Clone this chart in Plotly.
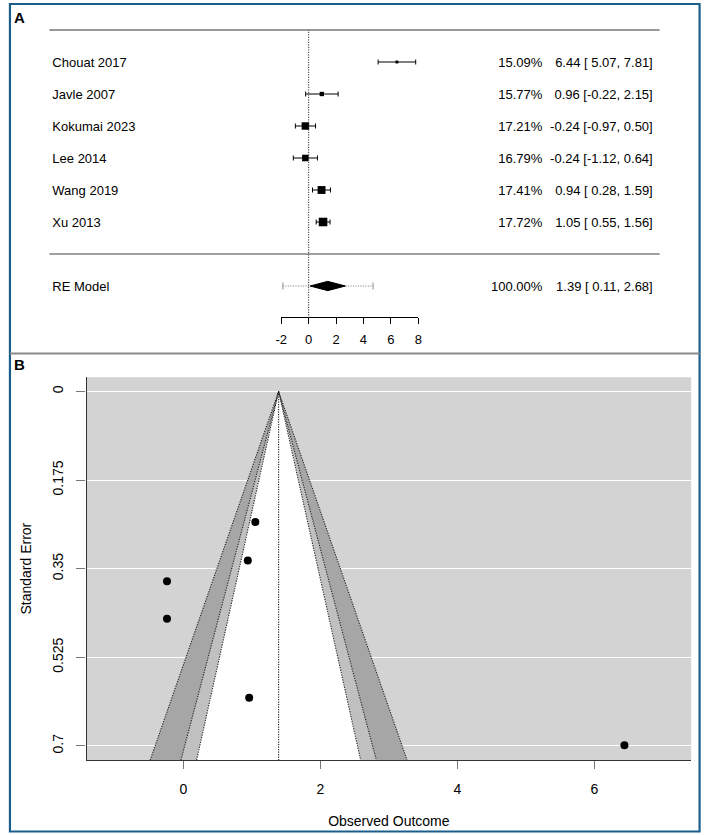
import plotly.graph_objects as go

# ---------------- data ----------------
studies = ["Chouat 2017", "Javle 2007", "Kokumai 2023", "Lee 2014", "Wang 2019", "Xu 2013"]
est = [6.44, 0.96, -0.24, -0.24, 0.94, 1.05]
ci_lo = [5.07, -0.22, -0.97, -1.12, 0.28, 0.55]
ci_hi = [7.81, 2.15, 0.50, 0.64, 1.59, 1.56]
weights = [15.09, 15.77, 17.21, 16.79, 17.41, 17.72]
se = [0.699, 0.605, 0.375, 0.449, 0.334, 0.258]

re_label = "RE Model"
re_est = 1.39
re_lo = 0.11
re_hi = 2.68
re_weight = 100.00
pi_lo = -1.88
pi_hi = 4.70

forest_ticks = [-2, 0, 2, 4, 6, 8]
funnel_xticks = [0, 2, 4, 6]
funnel_yticks = [0, 0.175, 0.35, 0.525, 0.7]
funnel_ytick_text = ["0", "0.175", "0.35", "0.525", "0.7"]
contour_z = [2.576, 1.96, 1.645]  # 99%, 95%, 90%
panel_letters = ["A", "B"]

# ---------------- helpers ----------------
W, H = 708, 835
FONT = "Liberation Sans, Arial, sans-serif"
DOT = "1.2px,1.3px"


def px(x):
    return x / W


def py(y):
    return 1 - y / H


fig = go.Figure()

# ---------------- Panel A: forest plot ----------------
k = len(studies)
rows = list(range(k, 0, -1))
re_row = -1
zero_px, unit_px = 307.0, 13.9
row0_px, row_px = 254.0, 32.0
xA_range = [-zero_px / unit_px, (W - zero_px) / unit_px]
yA_range = [(row0_px - 355) / row_px, row0_px / row_px]


def dx(p):
    """pixel column -> forest data x"""
    return (p - zero_px) / unit_px


wmin, wmax = min(weights), max(weights)
sizes = [5.7 * (0.5 + (w - wmin) / (wmax - wmin)) for w in weights]

for i in range(k):
    fig.add_trace(go.Scatter(
        x=[est[i]], y=[rows[i]], mode="markers",
        marker=dict(symbol="square", size=sizes[i], color="black"),
        error_x=dict(type="data", symmetric=False,
                     array=[ci_hi[i] - est[i]], arrayminus=[est[i] - ci_lo[i]],
                     color="black", thickness=1, width=2.5),
        xaxis="x", yaxis="y", showlegend=False, hoverinfo="skip"))

# prediction interval (dotted)
fig.add_trace(go.Scatter(
    x=[pi_lo, pi_hi], y=[re_row, re_row], mode="lines",
    line=dict(color="#8c8c8c", width=1, dash=DOT),
    xaxis="x", yaxis="y", showlegend=False, hoverinfo="skip"))
fig.add_trace(go.Scatter(
    x=[pi_lo, pi_hi], y=[re_row, re_row], mode="markers",
    marker=dict(symbol="line-ns", size=5, line=dict(color="#8c8c8c", width=1)),
    xaxis="x", yaxis="y", showlegend=False, hoverinfo="skip"))
# diamond
dh = 0.145
fig.add_trace(go.Scatter(
    x=[re_lo, re_est, re_hi, re_est, re_lo],
    y=[re_row, re_row + dh, re_row, re_row - dh, re_row],
    mode="lines", fill="toself", fillcolor="black",
    line=dict(color="black", width=1),
    xaxis="x", yaxis="y", showlegend=False, hoverinfo="skip"))

# forest axis (separate short axis)
fig.add_trace(go.Scatter(
    x=[forest_ticks[0], forest_ticks[-1]], y=[-2, -2], mode="markers",
    marker=dict(opacity=0), xaxis="x3", yaxis="y",
    showlegend=False, hoverinfo="skip"))

# text columns as text traces
all_rows = rows + [re_row]
text_rows = [r - 1.5 / row_px for r in all_rows]
label_txt = studies + [re_label]
weight_txt = [f"{w:.2f}%" for w in weights] + [f"{re_weight:.2f}%"]


def fmt_ci(e, lo, hi):
    lo_txt = f"{lo:.2f}" if lo < 0 else f"\u00a0{lo:.2f}"
    return f"{e:.2f} [{lo_txt}, {hi:.2f}]"


ci_txt = [fmt_ci(est[i], ci_lo[i], ci_hi[i]) for i in range(k)] + [fmt_ci(re_est, re_lo, re_hi)]
tfont = dict(size=13, color="black", family=FONT)

fig.add_trace(go.Scatter(
    x=[dx(47)] * len(all_rows), y=text_rows, mode="text", text=label_txt,
    textposition="middle right", textfont=tfont,
    xaxis="x", yaxis="y", showlegend=False, hoverinfo="skip", cliponaxis=False))
fig.add_trace(go.Scatter(
    x=[dx(544)] * len(all_rows), y=text_rows, mode="text", text=weight_txt,
    textposition="middle left", textfont=tfont,
    xaxis="x", yaxis="y", showlegend=False, hoverinfo="skip", cliponaxis=False))
fig.add_trace(go.Scatter(
    x=[dx(656)] * len(all_rows), y=text_rows, mode="text", text=ci_txt,
    textposition="middle left", textfont=tfont,
    xaxis="x", yaxis="y", showlegend=False, hoverinfo="skip", cliponaxis=False))

# panel letters on a pixel-space axis pair spanning the page
fig.add_trace(go.Scatter(
    x=[8, 8], y=[19, 366], mode="text",
    text=[f"<b>{t}</b>" for t in panel_letters],
    textposition="middle right", textfont=dict(size=15, color="black", family=FONT),
    xaxis="x4", yaxis="y4", showlegend=False, hoverinfo="skip", cliponaxis=False))

shapes = []
xl = dx(44)
xr = dx(663)
shapes.append(dict(type="line", xref="x", yref="y", x0=xl, x1=xr, y0=k + 1, y1=k + 1,
                   line=dict(color="#333333", width=1.2)))
shapes.append(dict(type="line", xref="x", yref="y", x0=xl, x1=xr, y0=0, y1=0,
                   line=dict(color="#808080", width=1.5)))
shapes.append(dict(type="line", xref="x", yref="y", x0=0, x1=0, y0=-2, y1=k + 1,
                   line=dict(color="#333333", width=1, dash=DOT)))

# ---------------- Panel B: funnel plot ----------------
se_max = 0.728
shapes.append(dict(type="rect", xref="x2 domain", yref="y2 domain", x0=0, x1=1, y0=0, y1=1,
                   fillcolor="#d3d3d3", line=dict(width=0), layer="below"))

band_colors = ["#a6a6a6", "#c0c0c0", "white"]
for z, col in zip(contour_z, band_colors):
    fig.add_trace(go.Scatter(
        x=[re_est - z * se_max, re_est, re_est + z * se_max, re_est - z * se_max],
        y=[se_max, 0, se_max, se_max], mode="lines", fill="toself",
        fillcolor=col, line=dict(width=0), xaxis="x2", yaxis="y2",
        showlegend=False, hoverinfo="skip"))
for z in contour_z:
    fig.add_trace(go.Scatter(
        x=[re_est - z * se_max, re_est, re_est + z * se_max],
        y=[se_max, 0, se_max], mode="lines",
        line=dict(color="#222222", width=1.1, dash=DOT),
        xaxis="x2", yaxis="y2", showlegend=False, hoverinfo="skip"))
fig.add_trace(go.Scatter(
    x=[re_est, re_est], y=[0, se_max], mode="lines",
    line=dict(color="#222222", width=1.1, dash=DOT),
    xaxis="x2", yaxis="y2", showlegend=False, hoverinfo="skip"))
fig.add_trace(go.Scatter(
    x=est, y=se, mode="markers",
    marker=dict(symbol="circle", size=8, color="black"),
    xaxis="x2", yaxis="y2", showlegend=False, hoverinfo="skip"))

# frame
shapes.append(dict(type="rect", xref="paper", yref="paper",
                   x0=px(4), x1=px(703.5), y0=py(831.5), y1=py(4),
                   line=dict(color="#1b5e8c", width=2.2)))
shapes.append(dict(type="line", xref="paper", yref="paper",
                   x0=px(4), x1=px(703.5), y0=py(353.5), y1=py(353.5),
                   line=dict(color="#8a8a8a", width=2)))

fig.update_layout(
    width=W, height=H,
    margin=dict(l=0, r=0, t=0, b=0),
    paper_bgcolor="white", plot_bgcolor="rgba(0,0,0,0)",
    font=dict(family=FONT, size=13, color="black"),
    showlegend=False,
    xaxis=dict(domain=[0, 1], range=xA_range, visible=False, anchor="y"),
    yaxis=dict(domain=[py(355), 1], range=yA_range, visible=False, anchor="x"),
    xaxis4=dict(domain=[0, 1], range=[0, W], visible=False, anchor="y4"),
    yaxis4=dict(domain=[0, 1], range=[H, 0], visible=False, anchor="x4"),
    xaxis3=dict(domain=[px(zero_px + forest_ticks[0] * unit_px), px(zero_px + forest_ticks[-1] * unit_px)],
                range=[forest_ticks[0], forest_ticks[-1]], anchor="free", position=py(317),
                showline=True, linecolor="black", linewidth=1,
                ticks="outside", ticklen=6, tickcolor="black", tickwidth=1,
                tickvals=forest_ticks, ticktext=[str(t) for t in forest_ticks],
                showgrid=False, zeroline=False, ticklabelstandoff=4,
                tickfont=dict(size=13, family=FONT, color="black")),
    xaxis2=dict(domain=[px(81.7), px(695)], range=[-1.415, 7.415], anchor="y2",
                showline=True, linecolor="#333333", linewidth=1.2,
                ticks="outside", ticklen=8, tickcolor="#777777", tickwidth=1.2,
                tickvals=funnel_xticks, showgrid=False, zeroline=False,
                ticklabelstandoff=8,
                tickfont=dict(size=14, family=FONT, color="black"),
                title=dict(text="Observed Outcome", standoff=20,
                           font=dict(size=14, family=FONT, color="black"))),
    yaxis2=dict(domain=[py(760), py(377.3)], range=[se_max, -0.028], anchor="x2",
                showline=True, linecolor="#333333", linewidth=1.2,
                ticks="outside", ticklen=9, tickcolor="#777777", tickwidth=1.2,
                tickvals=funnel_yticks, ticktext=funnel_ytick_text, tickangle=-90,
                showgrid=True, gridcolor="white", gridwidth=1.3, zeroline=False,
                ticklabelstandoff=8,
                tickfont=dict(size=14, family=FONT, color="black"),
                title=dict(text="Standard Error", standoff=14,
                           font=dict(size=14, family=FONT, color="black"))),
    shapes=shapes,
)

fig.write_html("out.html")
